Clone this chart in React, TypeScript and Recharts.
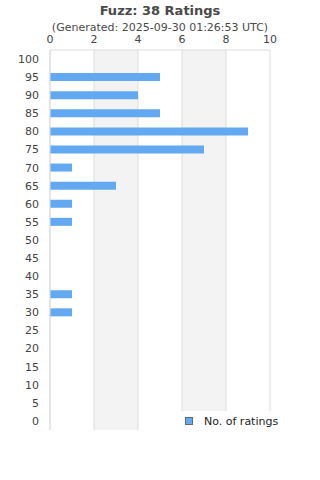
import React from 'react';
import { BarChart, Bar, XAxis, YAxis, CartesianGrid, Legend } from 'recharts';

const scores = ['100', '95', '90', '85', '80', '75', '70', '65', '60', '55', '50', '45', '40', '35', '30', '25', '20', '15', '10', '5', '0'];
const ratingCounts = [0, 5, 4, 5, 9, 7, 1, 3, 1, 1, 0, 0, 0, 1, 1, 0, 0, 0, 0, 0, 0];
const countTicks = [0, 2, 4, 6, 8, 10];

const chartData = scores.map((score, i) => ({
  score,
  'No. of ratings': ratingCounts[i],
}));

const font = '"DejaVu Sans", Verdana, sans-serif';

const LegendBox = () => (
  <div
    style={{
      background: '#fff',
      display: 'flex',
      alignItems: 'center',
      height: 20,
      paddingLeft: 7,
      fontFamily: font,
      fontSize: 11,
      color: '#222',
    }}
  >
    <span
      style={{
        width: 6,
        height: 6,
        background: '#62a9f2',
        border: '1px solid #666',
        marginRight: 11,
      }}
    />
    No. of ratings
  </div>
);

const App: React.FC = () => {
  return (
    <div style={{ position: 'absolute', left: 0, top: 0, width: 320, height: 480, background: '#fff', fontFamily: font }}>
      <div style={{ position: 'absolute', top: 3, width: 320, textAlign: 'center', fontSize: 13, fontWeight: 'bold', color: '#4a4a4a' }}>
        Fuzz: 38 Ratings
      </div>
      <div style={{ position: 'absolute', top: 21, width: 320, textAlign: 'center', fontSize: 11, color: '#4a4a4a' }}>
        (Generated: 2025-09-30 01:26:53 UTC)
      </div>
      <div style={{ position: 'absolute', left: 0, top: 0 }}>
        <BarChart
          width={320}
          height={480}
          data={chartData}
          layout="vertical"
          barSize={8}
          margin={{ top: 38, right: 50, left: 0, bottom: 30 }}
        >
          <CartesianGrid horizontal={false} stroke="#dddddd" verticalFill={['#ffffff', '#f3f3f3']} />
          <XAxis
            type="number"
            orientation="top"
            domain={[0, 10]}
            ticks={countTicks}
            height={12}
            tickLine={false}
            tickSize={0}
            tickMargin={7}
            axisLine={{ stroke: '#dddddd' }}
            tick={{ fill: '#444', fontSize: 11, fontFamily: font }}
          />
          <XAxis
            xAxisId="bottom"
            type="number"
            orientation="bottom"
            domain={[0, 10]}
            height={0}
            tick={false}
            tickLine={false}
            axisLine={{ stroke: '#dddddd' }}
          />
          <YAxis
            type="category"
            dataKey="score"
            width={50}
            tickLine={false}
            tickSize={0}
            tickMargin={11}
            axisLine={{ stroke: '#dddddd' }}
            interval={0}
            tick={{ fill: '#444', fontSize: 11, fontFamily: font }}
          />
          <Legend
            content={<LegendBox />}
            wrapperStyle={{ position: 'absolute', left: 178, top: 411, width: 102, height: 20 }}
          />
          <Bar dataKey="No. of ratings" fill="#62a9f2" isAnimationActive={false} />
        </BarChart>
      </div>
    </div>
  );
};

export default App;
